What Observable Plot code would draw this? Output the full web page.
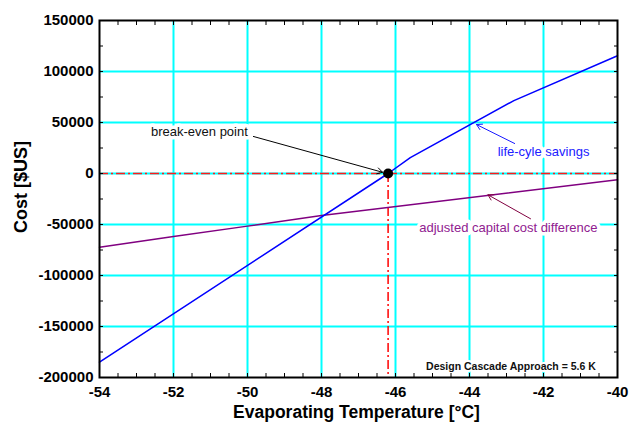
<!DOCTYPE html>
<html>
<head>
<meta charset="utf-8">
<script src="https://cdn.jsdelivr.net/npm/d3@7"></script>
<script src="https://cdn.jsdelivr.net/npm/@observablehq/plot@0.6"></script>
<style>
  html, body { margin: 0; padding: 0; background: #fff; }
  #chart { width: 630px; height: 429px; }
</style>
</head>
<body>
<div id="chart"></div>
<script>
// ---- data ----
const xTicks = [-54, -52, -50, -48, -46, -44, -42, -40];
const yTicks = [-200000, -150000, -100000, -50000, 0, 50000, 100000, 150000];
const savingsTemp = [-54, -46.2, -45.6, -42.8, -40];
const savingsCost = [-185000, 0, 15500, 71500, 115500];
const capitalTemp = [-54, -52, -50, -48, -40];
const capitalCost = [-72300, -61800, -51600, -41200, -6200];
const breakEvenTemp = -46.2;
const breakEvenCost = 0;
const labels = ["break-even point", "life-cyle savings", "adjusted capital cost difference", "Design Cascade Approach = 5.6 K"];

const savings = savingsTemp.map((t, i) => ({t, v: savingsCost[i]}));
const capital = capitalTemp.map((t, i) => ({t, v: capitalCost[i]}));

const font = "'Liberation Sans', Arial, sans-serif";
const dashDot = "9,3,2,3";

const plot = Plot.plot({
  width: 630,
  height: 429,
  marginLeft: 99,
  marginRight: 13,
  marginTop: 20,
  marginBottom: 52,
  style: {fontFamily: font, background: "white"},
  x: {domain: [-54, -40]},
  y: {domain: [-200000, 150000]},
  marks: [
    Plot.gridX(xTicks.slice(1, -1), {stroke: "#00ffff", strokeOpacity: 1, strokeWidth: 2}),
    Plot.gridY(yTicks.slice(1, -1), {stroke: "#00ffff", strokeOpacity: 1, strokeWidth: 2}),
    Plot.ruleY([breakEvenCost], {x1: -54, x2: -40, stroke: "#ff1a1a", strokeWidth: 1.5, strokeDasharray: dashDot}),
    Plot.ruleX([breakEvenTemp], {y1: breakEvenCost, y2: -200000, stroke: "#ff0000", strokeWidth: 1.5, strokeDasharray: dashDot}),
    Plot.line(capital, {x: "t", y: "v", stroke: "#800080", strokeWidth: 1.5}),
    Plot.line(savings, {x: "t", y: "v", stroke: "#0000ff", strokeWidth: 1.5}),
    // annotation labels (white halo interrupts grid like the original)
    Plot.text([labels[0]], {x: -51.3, y: 41200, text: d => d, fill: "#111", stroke: "white", strokeWidth: 7, fontSize: 13}),
    Plot.text([labels[1]], {x: -42.0, y: 20900, text: d => d, fill: "#2020ff", stroke: "white", strokeWidth: 7, fontSize: 13}),
    Plot.text([labels[2]], {x: -42.95, y: -53600, text: d => d, fill: "#902090", stroke: "white", strokeWidth: 7, fontSize: 13}),
    Plot.text([labels[3]], {x: -42.88, y: -189000, text: d => d, fill: "#111", stroke: "white", strokeWidth: 4, fontSize: 10.5, fontWeight: "bold"}),
    // arrows
    Plot.arrow([{x1: -49.84, y1: 36300, x2: -46.35, y2: 1200}], {x1: "x1", y1: "y1", x2: "x2", y2: "y2", stroke: "#000", strokeWidth: 1, headLength: 9}),
    Plot.arrow([{x1: -42.78, y1: 29400, x2: -43.81, y2: 48000}], {x1: "x1", y1: "y1", x2: "x2", y2: "y2", stroke: "#1a1aff", strokeWidth: 1, headLength: 9}),
    Plot.arrow([{x1: -42.35, y1: -44400, x2: -43.5, y2: -20900}], {x1: "x1", y1: "y1", x2: "x2", y2: "y2", stroke: "#800040", strokeWidth: 1, headLength: 9}),
    Plot.dot([{t: breakEvenTemp, v: breakEvenCost}], {x: "t", y: "v", r: 5, fill: "black"}),
    // inward minor/major ticks on all four sides
    Plot.axisX(d3.range(-54, -39.9, 0.5), {anchor: "bottom", tickSize: -4, text: null, strokeWidth: 1}),
    Plot.axisX(d3.range(-54, -39.9, 0.5), {anchor: "top", tickSize: -4, text: null, strokeWidth: 1}),
    Plot.axisY(d3.range(-200000, 150001, 25000), {anchor: "left", tickSize: -4, text: null, strokeWidth: 1}),
    Plot.axisY(d3.range(-200000, 150001, 25000), {anchor: "right", tickSize: -4, text: null, strokeWidth: 1}),
    // labels
    Plot.axisX(xTicks, {anchor: "bottom", tickSize: 0, tickPadding: 9, fontSize: 15, fontWeight: "bold", tickFormat: d => String(d), label: null}),
    Plot.axisY(yTicks, {anchor: "left", tickSize: 0, tickPadding: 6, fontSize: 15, fontWeight: "bold", tickFormat: d => String(d), label: null}),
    Plot.frame({stroke: "black", strokeWidth: 2}),
    Plot.text(["Evaporating Temperature [°C]"], {frameAnchor: "bottom", dy: 40, dx: -2, text: d => d, fontSize: 17.5, fontWeight: "bold", fill: "black"}),
    Plot.text(["Cost [$US]"], {frameAnchor: "left", textAnchor: "middle", dx: -78, dy: -12, rotate: -90, text: d => d, fontSize: 18, fontWeight: "bold", fill: "black"})
  ]
});
document.getElementById("chart").append(plot);
</script>
</body>
</html>
